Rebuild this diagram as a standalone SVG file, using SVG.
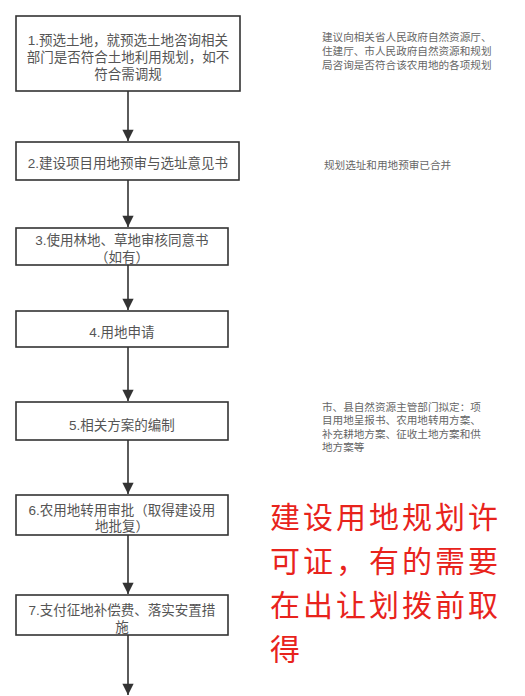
<svg xmlns="http://www.w3.org/2000/svg" width="525" height="696" viewBox="0 0 525 696">
<style>
.box{fill:#fff;stroke:#333;stroke-width:1.6}
.t{font-family:"Liberation Sans","Noto Sans CJK SC",sans-serif;font-size:13.5px;fill:#555;text-anchor:middle}
.n{font-family:"Liberation Sans","Noto Sans CJK SC",sans-serif;font-size:10.6px;fill:#666}
.r{font-family:"Noto Sans CJK SC",sans-serif;font-size:30px;letter-spacing:3px;fill:#e8231c}
.c{stroke:#333;stroke-width:1.6;fill:none}
</style>
<defs>
<marker id="ah" viewBox="0 0 10 10" refX="10" refY="5" markerWidth="7.5" markerHeight="7" orient="auto" markerUnits="strokeWidth">
<path d="M0,0 L10,5 L0,10 z" fill="#333"/>
</marker>
</defs>
<rect width="525" height="696" fill="#fff"/>
<g id="connectors">
<line class="c" x1="128" y1="91" x2="128" y2="141" marker-end="url(#ah)"/>
<line class="c" x1="128" y1="180" x2="128" y2="227" marker-end="url(#ah)"/>
<line class="c" x1="128" y1="265" x2="128" y2="310" marker-end="url(#ah)"/>
<line class="c" x1="128" y1="347" x2="128" y2="401" marker-end="url(#ah)"/>
<line class="c" x1="128" y1="440" x2="128" y2="494" marker-end="url(#ah)"/>
<line class="c" x1="128" y1="535" x2="128" y2="594" marker-end="url(#ah)"/>
<line class="c" x1="128" y1="635" x2="128" y2="695" marker-end="url(#ah)"/>
</g>
<g id="n1">
<rect class="box" x="16" y="16" width="224" height="75"/>
<text class="t" x="128" y="45">1.预选土地，就预选土地咨询相关</text>
<text class="t" x="128" y="62">部门是否符合土地利用规划，如不</text>
<text class="t" x="128" y="79">符合需调规</text>
</g>
<g id="n2">
<rect class="box" x="16" y="142" width="223" height="38"/>
<text class="t" x="128" y="168">2.建设项目用地预审与选址意见书</text>
</g>
<g id="n3">
<rect class="box" x="16" y="228" width="212" height="37"/>
<text class="t" x="122" y="245">3.使用林地、草地审核同意书</text>
<text class="t" x="122" y="262">（如有）</text>
</g>
<g id="n4">
<rect class="box" x="16" y="311" width="212" height="36"/>
<text class="t" x="122" y="337">4.用地申请</text>
</g>
<g id="n5">
<rect class="box" x="16" y="402" width="212" height="38"/>
<text class="t" x="122" y="430">5.相关方案的编制</text>
</g>
<g id="n6">
<rect class="box" x="16" y="495" width="212" height="40"/>
<text class="t" x="122" y="515">6.农用地转用审批（取得建设用</text>
<text class="t" x="122" y="531">地批复）</text>
</g>
<g id="n7">
<rect class="box" x="16" y="595" width="212" height="40"/>
<text class="t" x="122" y="615">7.支付征地补偿费、落实安置措</text>
<text class="t" x="122" y="632">施</text>
</g>
<g id="note1">
<text class="n" x="322" y="41">建议向相关省人民政府自然资源厅、</text>
<text class="n" x="322" y="55">住建厅、市人民政府自然资源和规划</text>
<text class="n" x="322" y="69">局咨询是否符合该农用地的各项规划</text>
</g>
<g id="note2">
<text class="n" x="324" y="169">规划选址和用地预审已合并</text>
</g>
<g id="note3">
<text class="n" x="322" y="411">市、县自然资源主管部门拟定：项</text>
<text class="n" x="322" y="424">目用地呈报书、农用地转用方案、</text>
<text class="n" x="322" y="438">补充耕地方案、征收土地方案和供</text>
<text class="n" x="322" y="451">地方案等</text>
</g>
<g id="note4">
<text class="r" x="270" y="528">建设用地规划许</text>
<text class="r" x="270" y="572">可证，有的需要</text>
<text class="r" x="270" y="616">在出让划拨前取</text>
<text class="r" x="270" y="660">得</text>
</g>
</svg>
